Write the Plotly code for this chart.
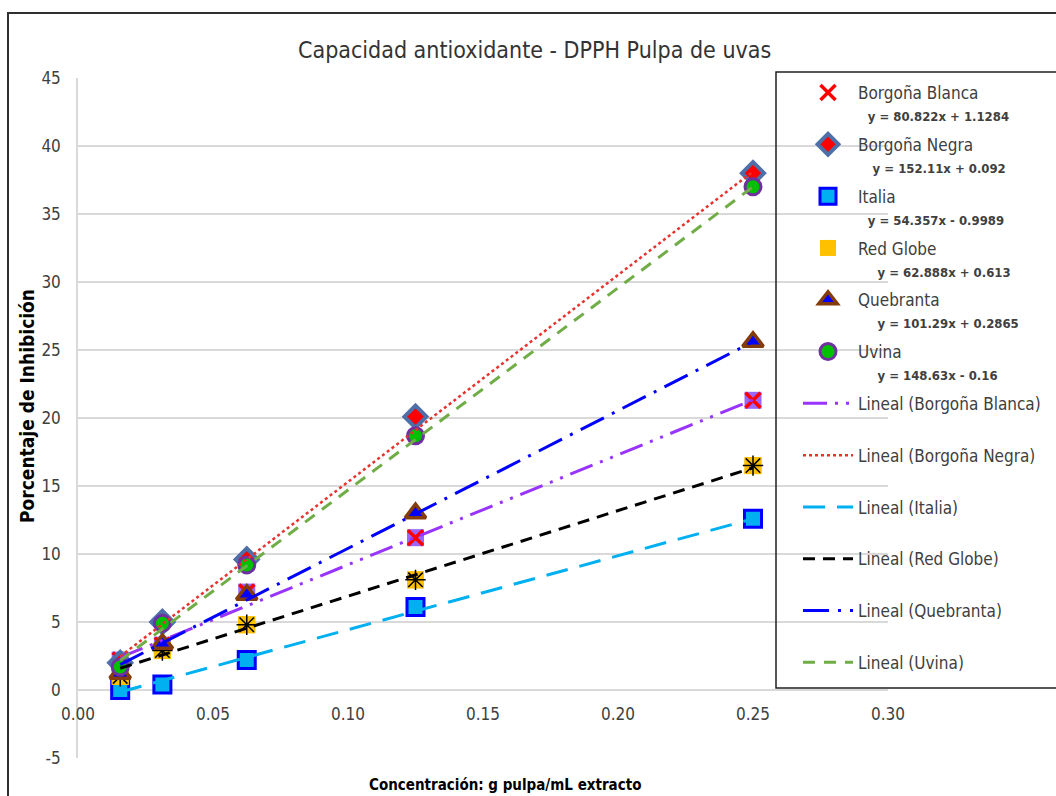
import plotly.graph_objects as go

# Concentración (g pulpa / mL extracto)
concentracion = [0.015625, 0.03125, 0.0625, 0.125, 0.25]

# Porcentaje de inhibición por variedad
borgona_blanca = [2.2, 3.3, 7.2, 11.2, 21.3]
borgona_negra = [2.0, 5.0, 9.6, 20.1, 38.0]
italia = [0.0, 0.4, 2.2, 6.1, 12.6]
red_globe = [1.0, 2.9, 4.8, 8.1, 16.5]
quebranta = [1.2, 3.4, 7.0, 13.0, 25.6]
uvina = [1.7, 4.9, 9.2, 18.7, 37.0]

variedades = ["Borgoña Blanca", "Borgoña Negra", "Italia", "Red Globe", "Quebranta", "Uvina"]
series = [borgona_blanca, borgona_negra, italia, red_globe, quebranta, uvina]

# Ajuste lineal de cada variedad (pendiente, intercepto)
pendientes = [80.822, 152.11, 54.357, 62.888, 101.29, 148.63]
interceptos = [1.1284, 0.092, -0.9989, 0.613, 0.2865, -0.16]
ecuaciones = [
    "y = 80.822x + 1.1284",
    "y = 152.11x + 0.092",
    "y = 54.357x - 0.9989",
    "y = 62.888x + 0.613",
    "y = 101.29x + 0.2865",
    "y = 148.63x - 0.16",
]
sangria = [2, 3, 2, 4, 4, 4]

y_ticks = list(range(-5, 50, 5))
y_tick_text = [str(v) for v in y_ticks]
x_ticks = [0.0, 0.05, 0.10, 0.15, 0.20, 0.25, 0.30]

FONT = "DejaVu Sans Condensed, Liberation Sans Narrow, Liberation Sans, sans-serif"
TXT = "#404040"

# capa inferior de algunos marcadores (relleno de fondo)
fondos = {
    0: dict(symbol="square", size=17, color="#9966FF", line=dict(width=0)),
    3: dict(symbol="square", size=17, color="#FFC000", line=dict(width=0)),
}
marcadores = [
    dict(symbol="x-thin", size=15, color="#FF0000", line=dict(color="#FF0000", width=3.5)),
    dict(symbol="diamond", size=17, color="#FF0000", line=dict(color="#4F6FA8", width=4)),
    dict(symbol="square", size=17, color="#00B0F0", line=dict(color="#0000FF", width=3)),
    dict(symbol="square", size=17, color="#FFC000", line=dict(width=0)),
    dict(symbol="triangle-up", size=18, color="#0000FF", line=dict(color="#843C0C", width=3.5)),
    dict(symbol="circle", size=16, color="#00C000", line=dict(color="#7030A0", width=3)),
]
estilos_linea = [
    dict(color="#9933FF", width=3, dash="24px,8px,3px,8px,3px,8px"),
    dict(color="#E8322E", width=2.5, dash="3px,3px"),
    dict(color="#00B0F0", width=3, dash="22px,12px"),
    dict(color="#000000", width=3, dash="12px,8px"),
    dict(color="#0000FF", width=3, dash="26px,9px,3px,9px"),
    dict(color="#70AD47", width=3, dash="12px,9px"),
]

fig = go.Figure()

for i, (nombre, valores) in enumerate(zip(variedades, series)):
    if i in fondos:
        fig.add_trace(go.Scatter(
            x=concentracion, y=valores, mode="markers", marker=fondos[i],
            showlegend=False, hoverinfo="skip"))
    etiqueta = (f"{nombre}<br>" + "&nbsp;" * sangria[i]
                + f"<span style='font-size:13px'><b>{ecuaciones[i]}</b></span>")
    fig.add_trace(go.Scatter(
        x=concentracion, y=valores, mode="markers", marker=marcadores[i],
        name=etiqueta, legendgroup=f"g{i}"))
    if i == 3:
        fig.add_trace(go.Scatter(
            x=concentracion, y=valores, mode="markers",
            marker=dict(symbol="asterisk-open", size=17, color="#000000",
                        line=dict(color="#000000", width=1.5)),
            showlegend=False, hoverinfo="skip"))

for i, nombre in enumerate(variedades):
    xs = [concentracion[0], concentracion[-1]]
    ys = [pendientes[i] * x + interceptos[i] for x in xs]
    fig.add_trace(go.Scatter(
        x=xs, y=ys, mode="lines", line=estilos_linea[i],
        name=f"Lineal ({nombre})<br>&nbsp;", legendgroup=f"l{i}"))


def px_x(p):
    return (p - 78) / 810


def px_y(p):
    return (758 - p) / 680


fig.update_layout(
    width=1056, height=796,
    margin=dict(l=78, r=168, t=78, b=38, autoexpand=False),
    paper_bgcolor="white", plot_bgcolor="white",
    font=dict(family=FONT, color=TXT, size=17),
    showlegend=True,
    legend=dict(
        x=px_x(798), y=px_y(75), xanchor="left", yanchor="top",
        bgcolor="rgba(0,0,0,0)", borderwidth=0,
        font=dict(family=FONT, size=17, color=TXT),
        valign="top", tracegroupgap=4.6, itemwidth=50, maxheight=720,
    ),
    xaxis=dict(
        range=[0, 0.30], tickvals=x_ticks, tickformat=".2f",
        showgrid=False, zeroline=False, showline=False,
        anchor="free", position=0.1, ticks="",
        ticklabelstandoff=12,
        tickfont=dict(family=FONT, size=17, color=TXT),
    ),
    yaxis=dict(
        range=[-5, 45], tickvals=y_ticks, ticktext=y_tick_text,
        showgrid=True, gridcolor="#D9D9D9", gridwidth=1.5,
        zeroline=False, showline=True, linecolor="#D9D9D9", linewidth=1.5,
        ticks="", ticklabelstandoff=12,
        tickfont=dict(family=FONT, size=17, color=TXT),
    ),
    annotations=[
        dict(text="Capacidad antioxidante - DPPH Pulpa de uvas",
             x=px_x(534), y=px_y(50), xref="paper", yref="paper",
             xanchor="center", yanchor="middle", showarrow=False,
             font=dict(family=FONT, size=23, color="#333333")),
        dict(text="<b>Concentración: g pulpa/mL extracto</b>",
             x=px_x(505), y=px_y(785), xref="paper", yref="paper",
             xanchor="center", yanchor="middle", showarrow=False,
             font=dict(family=FONT, size=15, color="#000000")),
        dict(text="<b>Porcentaje de Inhibición</b>",
             x=px_x(27), y=px_y(406), xref="paper", yref="paper",
             xanchor="center", yanchor="middle", showarrow=False, textangle=-90,
             font=dict(family=FONT, size=19, color="#000000")),
    ],
    shapes=[
        # marco exterior del gráfico
        dict(type="rect", xref="paper", yref="paper",
             x0=px_x(8), x1=px_x(1070), y0=px_y(810), y1=px_y(13),
             line=dict(color="#303030", width=2), fillcolor="rgba(0,0,0,0)"),
        # marco de la leyenda
        dict(type="rect", xref="paper", yref="paper",
             x0=px_x(776), x1=px_x(1070), y0=px_y(688), y1=px_y(72),
             line=dict(color="#202020", width=1.5), fillcolor="rgba(0,0,0,0)"),
    ],
)

fig.write_html("out.html")
